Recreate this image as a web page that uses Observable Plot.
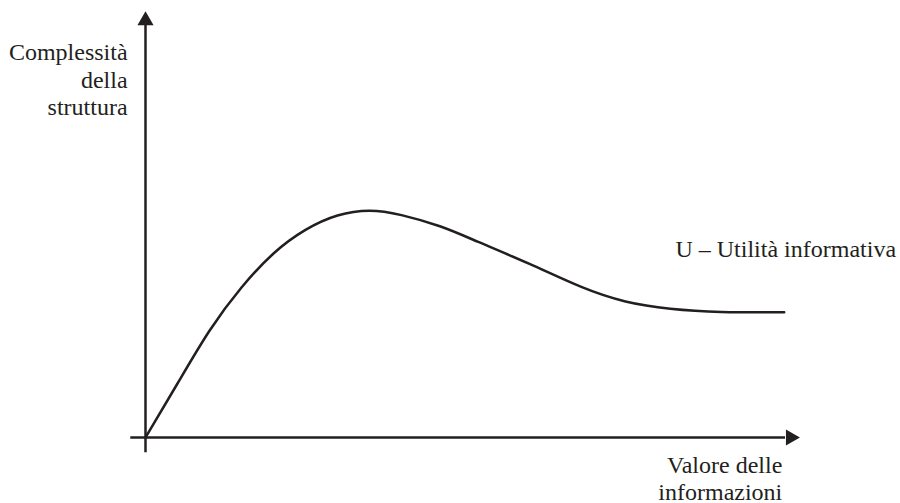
<!DOCTYPE html>
<html>
<head>
<meta charset="utf-8">
<script src="https://cdn.jsdelivr.net/npm/d3@7"></script>
<script src="https://cdn.jsdelivr.net/npm/@observablehq/plot@0.6"></script>
<style>
  html, body { margin: 0; padding: 0; background: #fff; }
</style>
</head>
<body>
<div id="chart"></div>
<script>
// Curve: U – Utilità informativa (abstract units)
const valoreInfo = [0, 0.5, 1.0, 1.5, 2.0, 2.5, 3.0, 3.5, 4.0, 4.6, 5.2, 6.0, 6.8, 7.5, 8.2, 9.0, 9.98];
const complessita = [0, 1.35, 2.67, 3.75, 4.60, 5.19, 5.55, 5.67, 5.56, 5.28, 4.89, 4.34, 3.77, 3.40, 3.22, 3.14, 3.13];

const yAxisLabel = "Complessità\ndella\nstruttura";
const xAxisLabel = "Valore delle\ninformazioni";
const curveLabel = "U – Utilità informativa";

const ink = "#231f20";
const curve = valoreInfo.map((x, i) => ({x, y: complessita[i]}));

const chart = Plot.plot({
  width: 900,
  height: 503,
  margin: 0,
  style: {fontFamily: "'Liberation Serif', 'Times New Roman', serif", background: "#fff"},
  x: {domain: [0, 10], range: [145, 785], axis: null},
  y: {domain: [0, 10], range: [437, 37], axis: null},
  marks: [
    // axes
    Plot.ruleY([0], {x1: -0.23, x2: 10.0, stroke: ink, strokeWidth: 2.5}),
    Plot.ruleX([0], {y1: -0.38, y2: 10.3, stroke: ink, strokeWidth: 2.5}),
    // arrow heads
    Plot.dot([{x: 10.08, y: 0}], {x: "x", y: "y", symbol: "triangle", r: 6, rotate: 90, fill: ink, stroke: "none"}),
    Plot.dot([{x: 0, y: 10.42}], {x: "x", y: "y", symbol: "triangle", r: 6, rotate: 0, fill: ink, stroke: "none"}),
    // curve
    Plot.line(curve, {x: "x", y: "y", curve: "natural", stroke: ink, strokeWidth: 2.5}),
    // labels
    Plot.text([yAxisLabel], {x: -0.28, y: 8.96, text: d => d, textAnchor: "end", lineAnchor: "middle", lineHeight: 1.146, fontSize: 24, fill: ink}),
    Plot.text([curveLabel], {x: 8.28, y: 4.7, text: d => d, textAnchor: "start", lineAnchor: "middle", fontSize: 24, fill: ink}),
    Plot.text([xAxisLabel], {x: 9.95, y: -1.0, text: d => d, textAnchor: "end", lineAnchor: "middle", lineHeight: 1.146, fontSize: 24, fill: ink})
  ]
});
document.getElementById("chart").appendChild(chart);
</script>
</body>
</html>
